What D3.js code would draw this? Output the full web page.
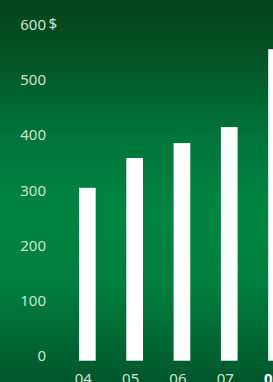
<!DOCTYPE html>
<html>
<head>
<meta charset="utf-8">
<script src="https://cdn.jsdelivr.net/npm/d3@7"></script>
<style>
  html, body { margin: 0; padding: 0; overflow: hidden; background: #00662f; }
  svg { display: block; }
  .axis text { font-family: "Noto Sans", "Open Sans", sans-serif; font-size: 15px; fill: #cfe2d3; }
</style>
</head>
<body>
<script>
// data
var years = ["04", "05", "06", "07", "08"];
var values = [313, 367, 394, 423, 564];
var yTicks = [0, 100, 200, 300, 400, 500, 600];

var svgWidth = 273;
var svgHeight = 382;

var svg = d3.select("body")
            .append("svg")
            .attr("width", svgWidth)
            .attr("height", svgHeight);

// background gradient
var grad = svg.append("defs")
    .append("linearGradient")
    .attr("id", "bg")
    .attr("x1", 0).attr("y1", 0).attr("x2", 0).attr("y2", 1);

[[0, "#03461b"], [0.12, "#034f20"], [0.35, "#00743a"], [0.55, "#008541"],
 [0.75, "#007e3d"], [1, "#00572a"]].forEach(function(s) {
  grad.append("stop").attr("offset", s[0]).attr("stop-color", s[1]);
});

svg.append("rect")
   .attr("width", svgWidth)
   .attr("height", svgHeight)
   .attr("fill", "url(#bg)");

// scales
var xScale = d3.scaleBand()
               .domain(years)
               .range([63.7, 300.2])
               .paddingInner(0.647)
               .paddingOuter(0.3235);

var yScale = d3.scaleLinear()
               .domain([0, 600])
               .range([360.7, 29.3]);

// bars
svg.selectAll("rect.bar")
   .data(values)
   .enter()
   .append("rect")
   .attr("class", "bar")
   .attr("x", (d, i) => xScale(years[i]))
   .attr("y", (d) => yScale(d))
   .attr("width", xScale.bandwidth())
   .attr("height", (d) => yScale(0) - yScale(d))
   .attr("fill", "#ffffff");

// y axis
var yAxis = d3.axisLeft(yScale)
              .tickValues(yTicks)
              .tickSize(0)
              .tickPadding(0);

var gy = svg.append("g")
    .attr("class", "axis")
    .attr("transform", "translate(46,0)")
    .call(yAxis);
gy.select(".domain").remove();
gy.selectAll("text").attr("x", 0).attr("dy", 0);

// dollar sign after top tick
svg.append("text")
   .attr("class", "axis")
   .attr("x", 48.5)
   .attr("y", yScale(600))
   .attr("font-family", "Noto Sans, Open Sans, sans-serif")
   .attr("font-size", 15)
   .attr("fill", "#cfe2d3")
   .text("$");

// x axis
var xAxis = d3.axisBottom(xScale)
              .tickSize(0);

var gx = svg.append("g")
    .attr("class", "axis")
    .attr("transform", "translate(-4," + yScale(0) + ")")
    .call(xAxis);
gx.select(".domain").remove();
gx.selectAll("text").attr("y", 23.5).attr("dy", 0);
gx.selectAll("text")
  .filter((d) => d === "08")
  .style("font-weight", "bold")
  .style("fill", "#ffffff");
</script>
</body>
</html>
